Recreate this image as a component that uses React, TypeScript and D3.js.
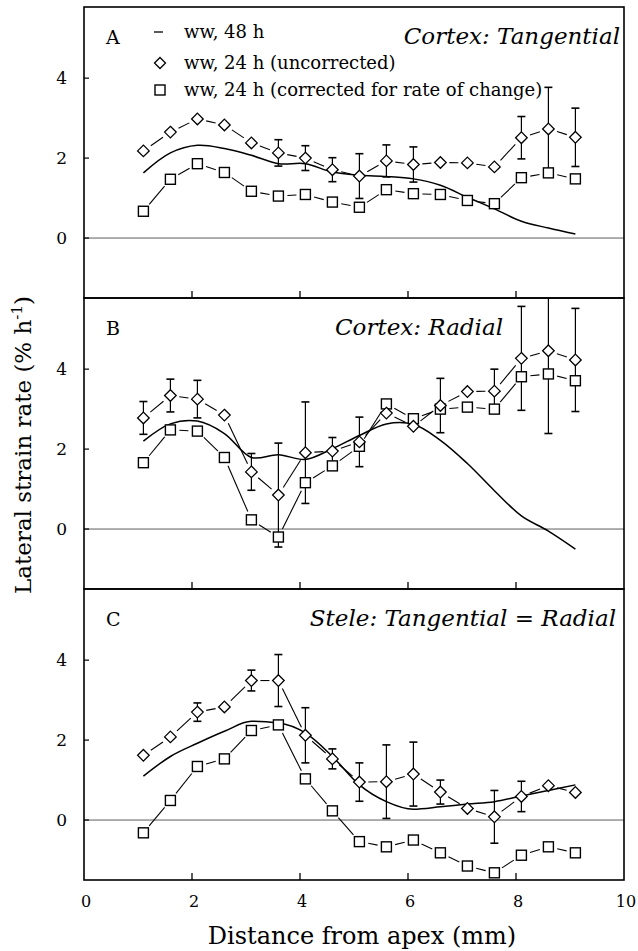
import React from 'react';
import * as d3 from 'd3';

// ---------- data ----------
const X_POS = [1.1, 1.6, 2.1, 2.6, 3.1, 3.6, 4.1, 4.6, 5.1, 5.6, 6.1, 6.6, 7.1, 7.6, 8.1, 8.6, 9.1];

// Panel A: Cortex: Tangential
const A_48H = [1.63, 2.13, 2.32, 2.24, 2.07, 1.86, 1.86, 1.65, 1.57, 1.54, 1.48, 1.32, 1.02, 0.73, 0.42, 0.25, 0.10];
const A_UNCORR = [2.18, 2.65, 2.98, 2.83, 2.38, 2.13, 2.0, 1.71, 1.55, 1.93, 1.84, 1.89, 1.88, 1.78, 2.51, 2.73, 2.52];
const A_UNCORR_ERR = [0, 0, 0, 0, 0, 0.33, 0.31, 0.3, 0.56, 0.4, 0.44, 0, 0, 0, 0.53, 1.04, 0.73];
const A_CORR = [0.67, 1.47, 1.86, 1.64, 1.17, 1.05, 1.09, 0.90, 0.77, 1.21, 1.11, 1.09, 0.94, 0.86, 1.51, 1.63, 1.48];

// Panel B: Cortex: Radial
const B_48H = [2.2, 2.63, 2.70, 2.39, 1.79, 1.86, 1.74, 2.01, 2.34, 2.63, 2.62, 2.22, 1.64, 0.96, 0.33, -0.05, -0.5];
const B_UNCORR = [2.78, 3.34, 3.25, 2.85, 1.43, 0.85, 1.91, 1.95, 2.18, 2.90, 2.57, 3.09, 3.44, 3.45, 4.27, 4.46, 4.23];
const B_UNCORR_ERR = [0.41, 0.41, 0.47, 0, 0.46, 1.3, 1.27, 0.34, 0.62, 0, 0, 0.68, 0, 0.55, 1.3, 2.07, 1.29];
const B_CORR = [1.66, 2.48, 2.45, 1.79, 0.23, -0.2, 1.16, 1.58, 2.07, 3.13, 2.76, 3.0, 3.05, 3.0, 3.81, 3.88, 3.71];

// Panel C: Stele: Tangential = Radial
const C_48H = [1.10, 1.59, 1.92, 2.22, 2.47, 2.43, 2.18, 1.59, 0.88, 0.46, 0.27, 0.33, 0.40, 0.46, 0.60, 0.74, 0.88];
const C_UNCORR = [1.62, 2.08, 2.70, 2.83, 3.49, 3.49, 2.12, 1.53, 0.95, 0.96, 1.15, 0.70, 0.29, 0.08, 0.59, 0.86, 0.69];
const C_UNCORR_ERR = [0, 0, 0.23, 0, 0.26, 0.65, 0.69, 0.25, 0.48, 0.92, 0.8, 0.3, 0, 0.66, 0.38, 0, 0];
const C_CORR = [-0.32, 0.49, 1.34, 1.53, 2.24, 2.38, 1.03, 0.23, -0.54, -0.67, -0.50, -0.82, -1.15, -1.32, -0.88, -0.67, -0.82];

const PANEL_LETTERS = ['A', 'B', 'C'];
const PANEL_TITLES = ['Cortex: Tangential', 'Cortex: Radial', 'Stele: Tangential = Radial'];
const LEGEND_LABELS = ['ww, 48 h', 'ww, 24 h (uncorrected)', 'ww, 24 h (corrected for rate of change)'];
const X_TICKS = [0, 2, 4, 6, 8, 10];
const Y_TICKS = [0, 2, 4];
const X_LABEL = 'Distance from apex (mm)';

const PANELS = [
  { line: A_48H, unc: A_UNCORR, err: A_UNCORR_ERR, cor: A_CORR },
  { line: B_48H, unc: B_UNCORR, err: B_UNCORR_ERR, cor: B_CORR },
  { line: C_48H, unc: C_UNCORR, err: C_UNCORR_ERR, cor: C_CORR },
];

// ---------- layout ----------
const W = 638;
const H = 951;
const LEFT = 84;
const RIGHT = 624;
const PANEL_TOP = [7, 298, 589];
const PANEL_H = 291;
const FONT = "'DejaVu Serif', serif";
const TITLE_X = [620, 503, 616];

const x = d3.scaleLinear().domain([0, 10]).range([LEFT, RIGHT]);

function gapSegments(pts: [number, number][], off: number) {
  const segs: [number, number, number, number][] = [];
  for (let i = 0; i < pts.length - 1; i++) {
    const [x1, y1] = pts[i];
    const [x2, y2] = pts[i + 1];
    const dx = x2 - x1, dy = y2 - y1;
    const len = Math.hypot(dx, dy);
    if (len <= 2 * off + 1) continue;
    const ux = dx / len, uy = dy / len;
    segs.push([x1 + ux * off, y1 + uy * off, x2 - ux * off, y2 - uy * off]);
  }
  return segs;
}

const diamondPath = (cx: number, cy: number, r: number) =>
  `M${cx},${cy - r}L${cx + r},${cy}L${cx},${cy + r}L${cx - r},${cy}Z`;

function Panel({ idx }: { idx: number }) {
  const top = PANEL_TOP[idx];
  const bottom = top + PANEL_H;
  const y = d3.scaleLinear().domain([-1.5, 5.78]).range([bottom, top]);
  const d = PANELS[idx];
  const linePts: [number, number][] = X_POS.map((v, i) => [x(v), y(d.line[i])]);
  const uncPts: [number, number][] = X_POS.map((v, i) => [x(v), y(d.unc[i])]);
  const corPts: [number, number][] = X_POS.map((v, i) => [x(v), y(d.cor[i])]);
  const lineGen = d3.line().curve(idx === 2 ? d3.curveMonotoneX : d3.curveCatmullRom.alpha(0.5));
  const clipId = `clip${idx}`;
  const DR = 5.8;
  const SQ = 10;
  return (
    <g>
      <defs>
        <clipPath id={clipId}>
          <rect x={LEFT} y={top} width={RIGHT - LEFT} height={PANEL_H} />
        </clipPath>
      </defs>
      {/* zero line */}
      <line x1={LEFT} x2={RIGHT} y1={y(0)} y2={y(0)} stroke="#333" strokeWidth={0.8} />
      <g clipPath={`url(#${clipId})`}>
        {/* 48h line */}
        <path d={lineGen(linePts) || ''} fill="none" stroke="#000" strokeWidth={1.5} />
        {/* connectors */}
        {gapSegments(uncPts, 9).map((s, i) => (
          <line key={'u' + i} x1={s[0]} y1={s[1]} x2={s[2]} y2={s[3]} stroke="#000" strokeWidth={1.1} />
        ))}
        {gapSegments(corPts, 9).map((s, i) => (
          <line key={'c' + i} x1={s[0]} y1={s[1]} x2={s[2]} y2={s[3]} stroke="#000" strokeWidth={1.1} />
        ))}
        {/* error bars */}
        {X_POS.map((v, i) => {
          const e = d.err[i];
          if (!e) return null;
          const cx = x(v);
          const y1 = y(d.unc[i] + e);
          const y2 = y(d.unc[i] - e);
          return (
            <g key={'e' + i} stroke="#000" strokeWidth={1.2}>
              <line x1={cx} x2={cx} y1={y1} y2={y2} />
              <line x1={cx - 4} x2={cx + 4} y1={y1} y2={y1} strokeWidth={1.6} />
              <line x1={cx - 4} x2={cx + 4} y1={y2} y2={y2} strokeWidth={1.6} />
            </g>
          );
        })}
        {/* markers */}
        {corPts.map((p, i) => (
          <rect key={'s' + i} x={p[0] - SQ / 2} y={p[1] - SQ / 2} width={SQ} height={SQ}
            fill="#fff" stroke="#000" strokeWidth={1.4} />
        ))}
        {uncPts.map((p, i) => (
          <path key={'d' + i} d={diamondPath(p[0], p[1], DR)} fill="#fff" stroke="#000" strokeWidth={1.3} />
        ))}
      </g>
      {/* frame */}
      <rect x={LEFT} y={top} width={RIGHT - LEFT} height={PANEL_H} fill="none" stroke="#000" strokeWidth={1.6} />
      {/* y ticks */}
      {Y_TICKS.map((t) => (
        <g key={'yt' + t}>
          <line x1={LEFT} x2={LEFT + 5} y1={y(t)} y2={y(t)} stroke="#000" strokeWidth={1.2} />
          <text x={67} y={y(t)} textAnchor="end" dominantBaseline="central" fontFamily={FONT} fontSize={17}>
            {t}
          </text>
        </g>
      ))}
      {/* x ticks */}
      {X_TICKS.slice(1, -1).map((t) => (
        <line key={'xt' + t} x1={x(t)} x2={x(t)} y1={bottom} y2={bottom - 7} stroke="#000" strokeWidth={1.3} />
      ))}
      <text x={106} y={top + 37} fontFamily={FONT} fontSize={19}>{PANEL_LETTERS[idx]}</text>
      <text x={TITLE_X[idx]} y={top + 37} textAnchor="end" fontFamily={FONT} fontStyle="italic" fontSize={23}>
        {PANEL_TITLES[idx]}
      </text>
    </g>
  );
}

function Legend() {
  const rows = [32, 63, 90];
  return (
    <g fontFamily={FONT} fontSize={18}>
      <line x1={154} x2={163} y1={rows[0]} y2={rows[0]} stroke="#000" strokeWidth={1.3} />
      <path d={diamondPath(160, rows[1], 5.5)} fill="#fff" stroke="#000" strokeWidth={1.3} />
      <rect x={155} y={rows[2] - 5} width={10} height={10} fill="#fff" stroke="#000" strokeWidth={1.4} />
      {LEGEND_LABELS.map((l, i) => (
        <text key={l} x={184} y={rows[i] + 6}>{l}</text>
      ))}
    </g>
  );
}

export default function App() {
  const bottom = PANEL_TOP[2] + PANEL_H;
  return (
    <svg width={W} height={H} style={{ position: 'absolute', left: 0, top: 0, background: '#fff' }}>
      <rect x={0} y={0} width={W} height={H} fill="#fff" />
      {[0, 1, 2].map((i) => <Panel key={i} idx={i} />)}
      <Legend />
      {X_TICKS.map((t) => (
        <text key={'xl' + t} x={x(t) + 2} y={bottom + 27} textAnchor="middle" fontFamily={FONT} fontSize={16}>
          {t}
        </text>
      ))}
      <text x={362} y={944} textAnchor="middle" fontFamily={FONT} fontSize={24}>{X_LABEL}</text>
      <text transform={`translate(31, 445) rotate(-90)`} textAnchor="middle" fontFamily={FONT} fontSize={23}>
        Lateral strain rate (% h<tspan dy={-9} fontSize={15}>-1</tspan><tspan dy={9}>)</tspan>
      </text>
    </svg>
  );
}
